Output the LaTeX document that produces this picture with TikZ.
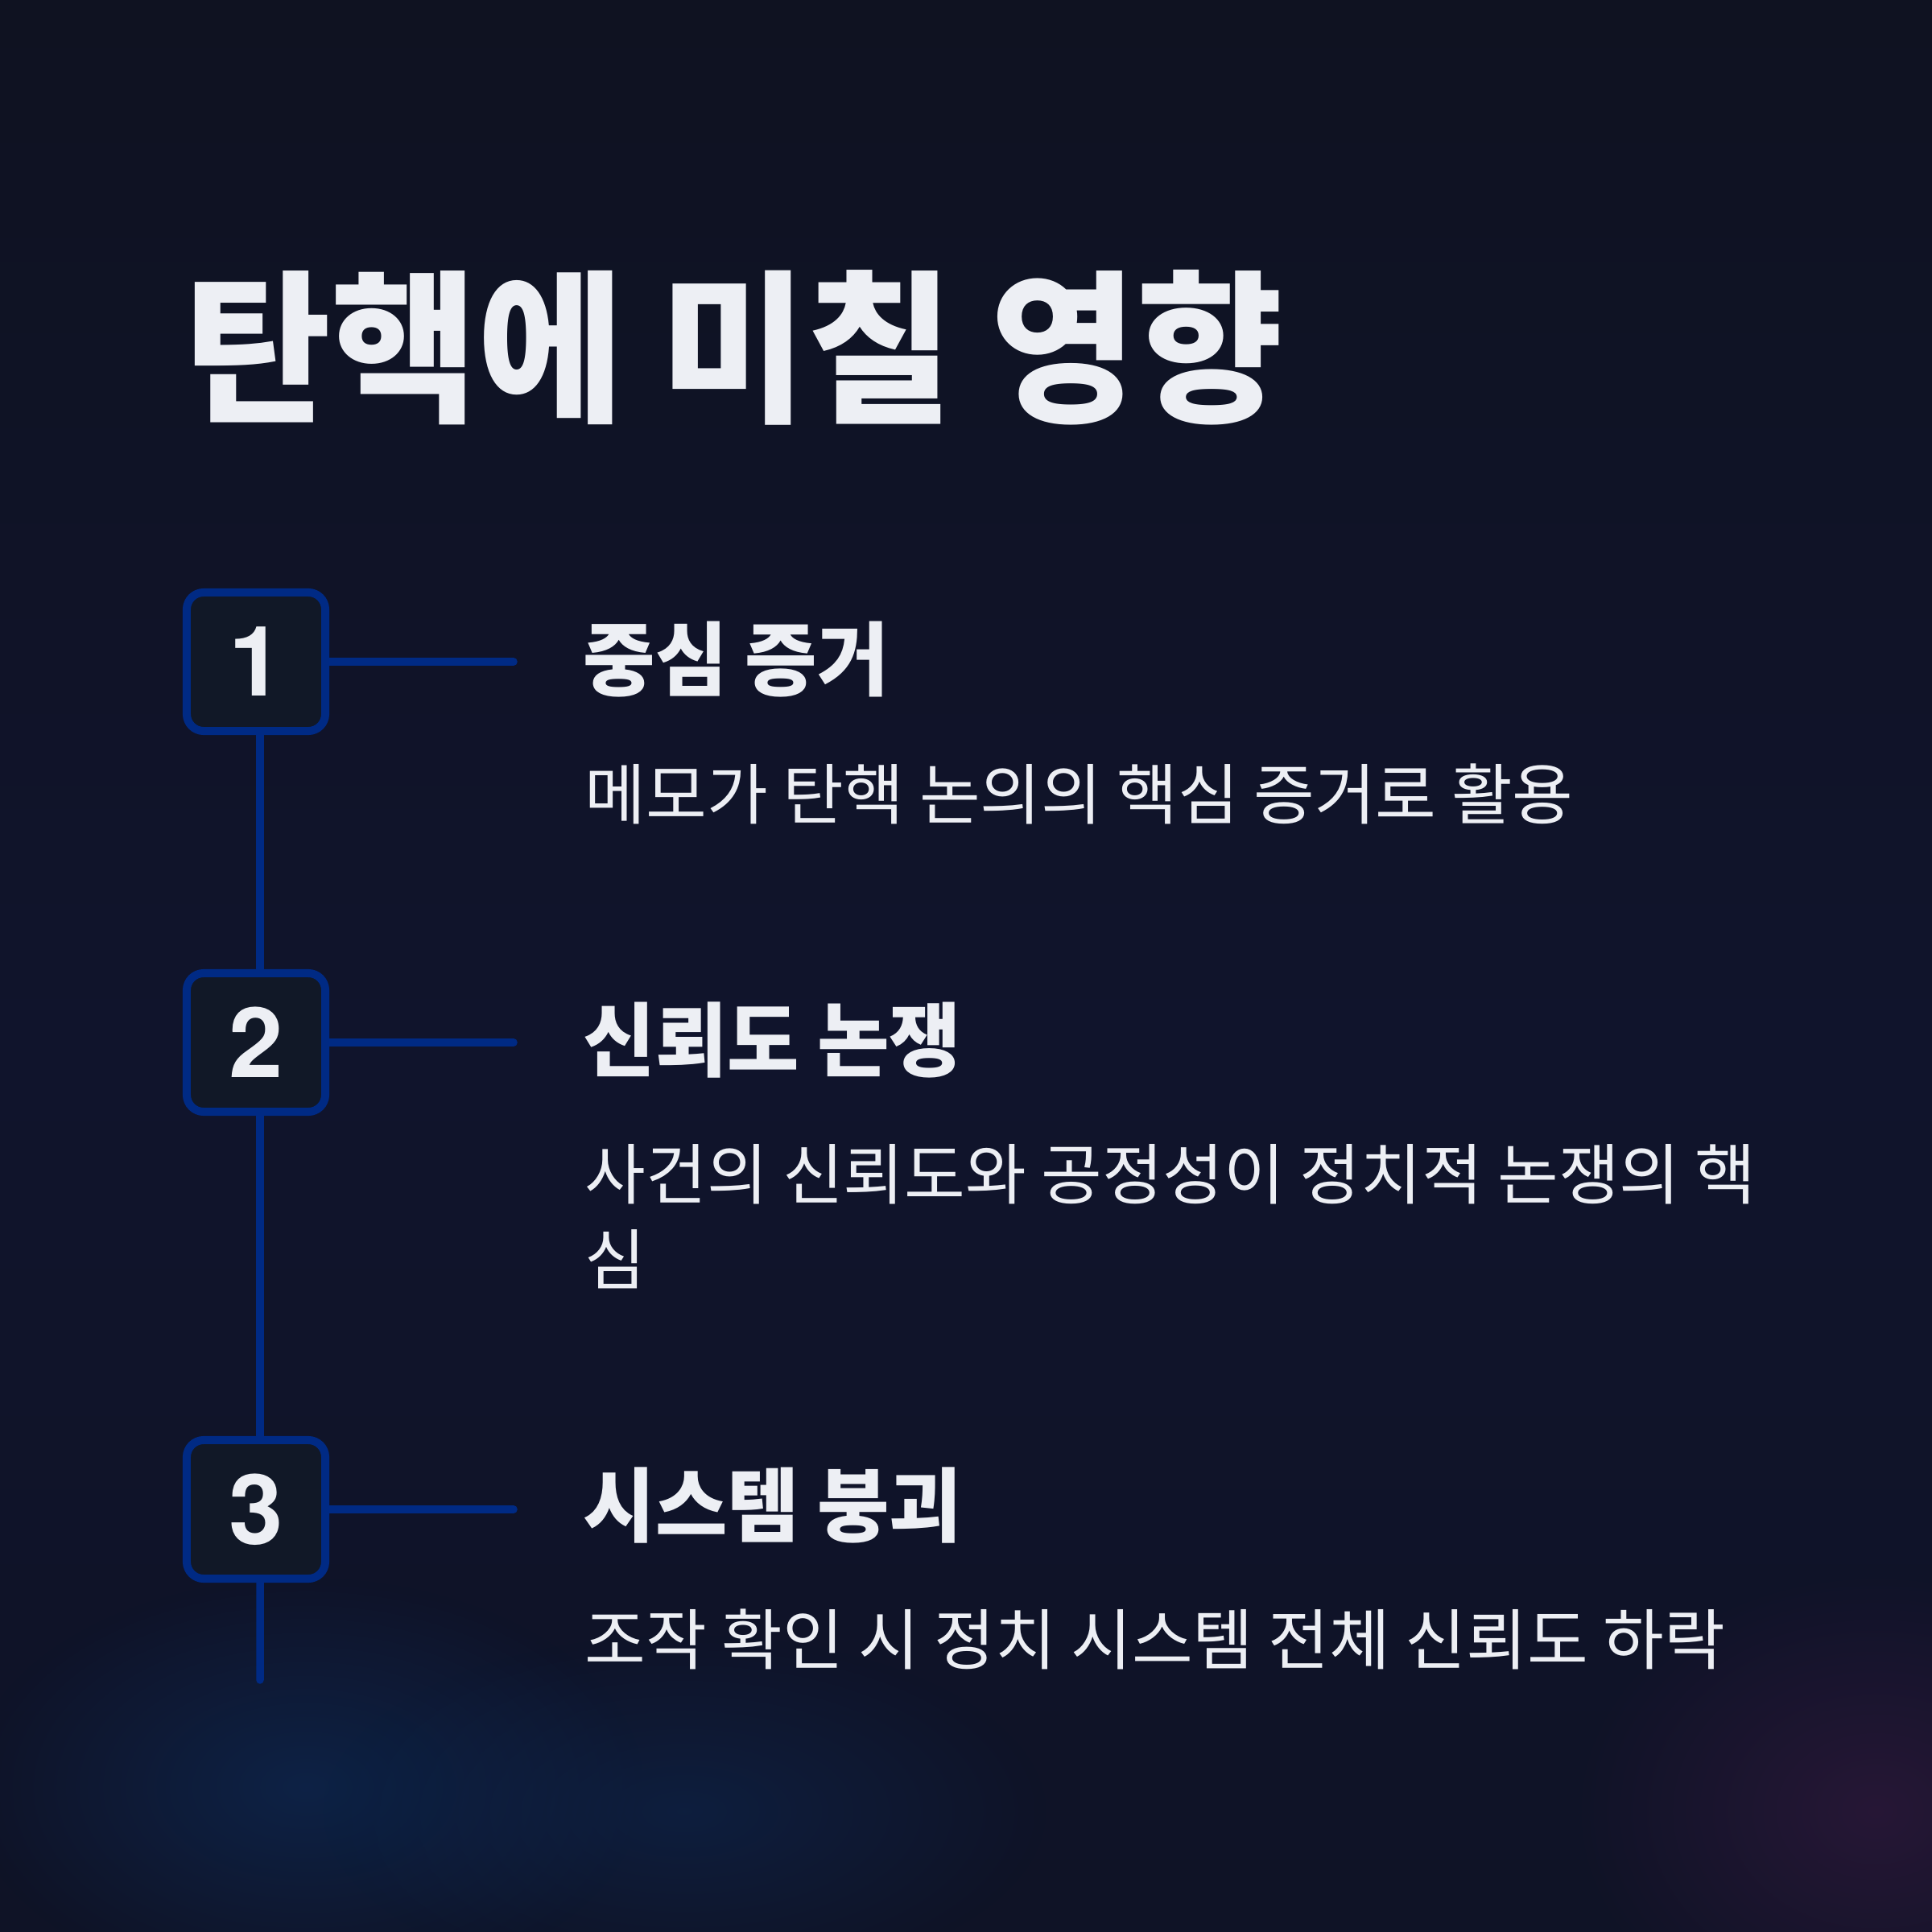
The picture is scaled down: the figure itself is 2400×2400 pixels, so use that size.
\documentclass[tikz,border=0pt]{standalone}
\usepackage{fontspec}
\usetikzlibrary{positioning,calc,fadings}

\newfontfamily\krfont[BoldFeatures={FakeStretch=0.97}]{Noto Sans CJK KR}
\newfontfamily\numfont{TeX Gyre Heros}

\definecolor{bgtop}{RGB}{15,18,33}
\definecolor{bgmid}{RGB}{16,20,44}
\definecolor{bgbot}{RGB}{15,19,38}
\definecolor{linkblue}{RGB}{0,42,132}
\definecolor{boxfill}{RGB}{17,24,39}
\definecolor{textwhite}{RGB}{237,239,244}
\definecolor{glowblue}{RGB}{12,44,90}
\definecolor{glowpurple}{RGB}{58,26,66}

\tikzfading[name=glowfade, inner color=transparent!0, outer color=transparent!100]

\begin{document}
\begin{tikzpicture}[
    x=0.01cm, y=-0.01cm,
    numbox/.style={
        draw=linkblue,
        fill=boxfill,
        line width=0.1cm,
        rounded corners=0.21cm,
        minimum size=1.72cm,
        inner sep=0pt,
        text=textwhite,
        font=\numfont\bfseries\fontsize{34.4}{40}\selectfont
    },
    title/.style={anchor=base west, inner sep=0pt, text=textwhite,
        font=\krfont\bfseries\fontsize{58}{66}\selectfont},
    heading/.style={anchor=base west, inner sep=0pt, text=textwhite,
        font=\krfont\bfseries\fontsize{28.5}{34}\selectfont},
    desc/.style={anchor=base west, inner sep=0pt, text=textwhite, align=left,
        font=\krfont\fontsize{23.4}{30}\selectfont},
    link/.style={draw=linkblue, line width=0.095cm, line cap=round}
]

% background
\useasboundingbox (0,0) rectangle (2400,2400);
\shade[top color=bgtop, bottom color=bgmid] (0,0) rectangle (2400,1300);
\shade[top color=bgmid, bottom color=bgbot] (0,1300) rectangle (2400,2400);
\fill[glowblue, path fading=glowfade, fill opacity=0.6] (380,2220) ellipse (420 and 260);
\fill[glowblue, path fading=glowfade, fill opacity=0.45] (850,2250) ellipse (450 and 220);
\fill[glowpurple, path fading=glowfade, fill opacity=0.55] (2330,2250) ellipse (380 and 300);

% title
\node[title] (title) at (229,508) {탄핵에 미칠 영향};

% numbered steps
\node[numbox] (num1) at (318,822) {1};
\node[numbox] (num2) at (318,1295) {2};
\node[numbox] (num3) at (318,1875) {3};

\coordinate (tail) at (323,2087);
\coordinate (tick1) at (638,822);
\coordinate (tick2) at (638,1295);
\coordinate (tick3) at (638,1875);

\draw[link] ([xshift=0.05cm]num1.south) -- ([xshift=0.05cm]num2.north);
\draw[link] ([xshift=0.05cm]num2.south) -- ([xshift=0.05cm]num3.north);
\draw[link] ([xshift=0.05cm]num3.south) -- (tail);
\draw[link] (num1.east) -- (tick1);
\draw[link] (num2.east) -- (tick2);
\draw[link] (num3.east) -- (tick3);

% texts
\node[heading] (head1) at (724,856) {중심 증거};
\node[desc] (desc1) at (726,1017) {메모가 탄핵 논의의 핵심 증거로 활용};

\node[heading] (head2) at (724,1329) {신뢰도 논쟁};
\node[desc] (desc2) at (726,1595) {사건의 신뢰도와 공정성이 정치적 논쟁의 핵\\심};

\node[heading] (head3) at (724,1907) {시스템 붕괴};
\node[desc] (desc3) at (726,2067) {조작 확인 시 정치 시스템 전체 신뢰도 하락};

\end{tikzpicture}
\end{document}
